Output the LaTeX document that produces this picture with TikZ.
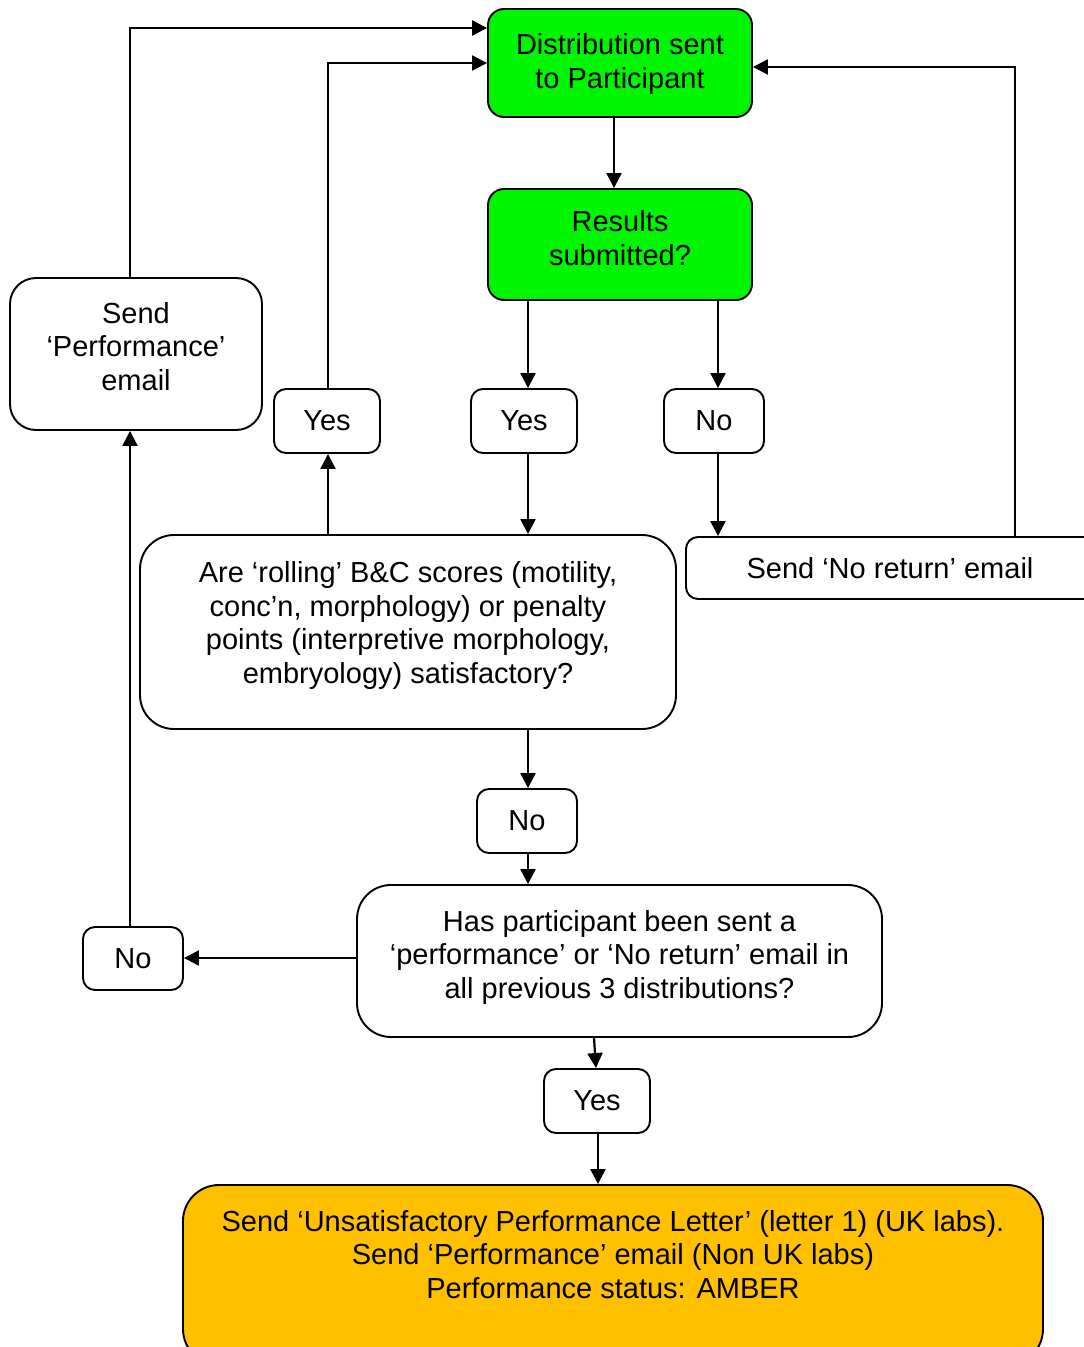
\documentclass[tikz,border=0pt]{standalone}
\usepackage{fontspec}
\setmainfont{Liberation Sans}
\usetikzlibrary{arrows.meta}
\definecolor{boxgreen}{RGB}{0,245,0}
\definecolor{amber}{RGB}{255,192,0}
\begin{document}
\begin{tikzpicture}[x=1pt,y=-1pt,
  font=\fontsize{29}{33.5}\selectfont,
  box/.style={draw, line width=1.9pt, align=center, inner sep=0pt, rounded corners=#1},
  box/.default=12pt,
  arr/.style={line width=2.2pt, -{Triangle[length=15pt,width=15pt]}},
  ln/.style={line width=2.2pt}]
\useasboundingbox (0,0) rectangle (1084,1347);
\clip (0,0) rectangle (1084,1347);
% nodes
\node[box=16pt, fill=boxgreen, minimum width=264pt, minimum height=108pt] (A) at (620,63) {Distribution sent\\to Participant\\[-29pt]~};
\node[box=16pt, fill=boxgreen, minimum width=264pt, minimum height=111pt] (B) at (620,244.5) {Results\\submitted?\\[-20pt]~};
\node[box, minimum width=106pt, minimum height=64pt] (Y1) at (524,421) {Yes};
\node[box, minimum width=100pt, minimum height=64pt] (N1) at (714,421) {No};
\node[box, minimum width=106pt, minimum height=64pt] (Y2) at (327,421) {Yes};
\node[box=26pt, minimum width=252pt, minimum height=152pt] (P) at (136,354) {Send\\‘Performance’\\email\\[-18pt]~};
\node[box, minimum width=414pt, minimum height=62pt] (NR) at (893,568) {Send ‘No return’ email\hspace{6pt}};
\node[box=34pt, minimum width=536pt, minimum height=194pt] (Q) at (408,632) {Are ‘rolling’ B\&C scores (motility,\\conc’n, morphology) or penalty\\points (interpretive morphology,\\embryology) satisfactory?\\[-14pt]~};
\node[box, minimum width=100pt, minimum height=64pt] (N2) at (527,821) {No};
\node[box=34pt, minimum width=525pt, minimum height=152pt] (H) at (619.5,961) {Has participant been sent a\\‘performance’ or ‘No return’ email in\\all previous 3 distributions?\\[-20pt]~};
\node[box, minimum width=100pt, minimum height=63pt] (N3) at (133,958.5) {No};
\node[box, minimum width=106pt, minimum height=64pt] (Y3) at (597,1101) {Yes};
\node[box=36pt, fill=amber, minimum width=860pt, minimum height=180pt] (Bot) at (613,1275) {Send ‘Unsatisfactory Performance Letter’ (letter 1) (UK labs).\\Send ‘Performance’ email (Non UK labs)\\Performance status: AMBER\\[8pt]~};
% connectors
\draw[arr] (A.south -| 614,0) -- (B.north -| 614,0);
\draw[arr] (B.south -| 528,0) -- (Y1.north -| 528,0);
\draw[arr] (B.south -| 718,0) -- (N1.north -| 718,0);
\draw[arr] (Y1.south -| 528,0) -- (Q.north -| 528,0);
\draw[arr] (N1.south -| 718,0) -- (NR.north -| 718,0);
\draw[arr] (NR.north -| 1015,0) |- ([yshift=-4pt]A.east);
\draw[arr] (Q.north -| 328,0) -- (Y2.south -| 328,0);
\draw[arr] (Y2.north -| 328,0) |- (A.west);
\draw[arr] (P.north -| 130,0) |- (A.west |- 0,28);
\draw[arr] (Q.south -| 528,0) -- (N2.north -| 528,0);
\draw[arr] (N2.south -| 528,0) -- (H.north -| 528,0);
\draw[arr] (H.west |- 0,958) -- (N3.east |- 0,958);
\draw[arr] (N3.north -| 130,0) -- (P.south -| 130,0);
\draw[arr] (H.south -| 594,0) -- (Y3.north -| 596,0);
\draw[arr] (Y3.south -| 598,0) -- (Bot.north -| 598,0);
\end{tikzpicture}
\end{document}
